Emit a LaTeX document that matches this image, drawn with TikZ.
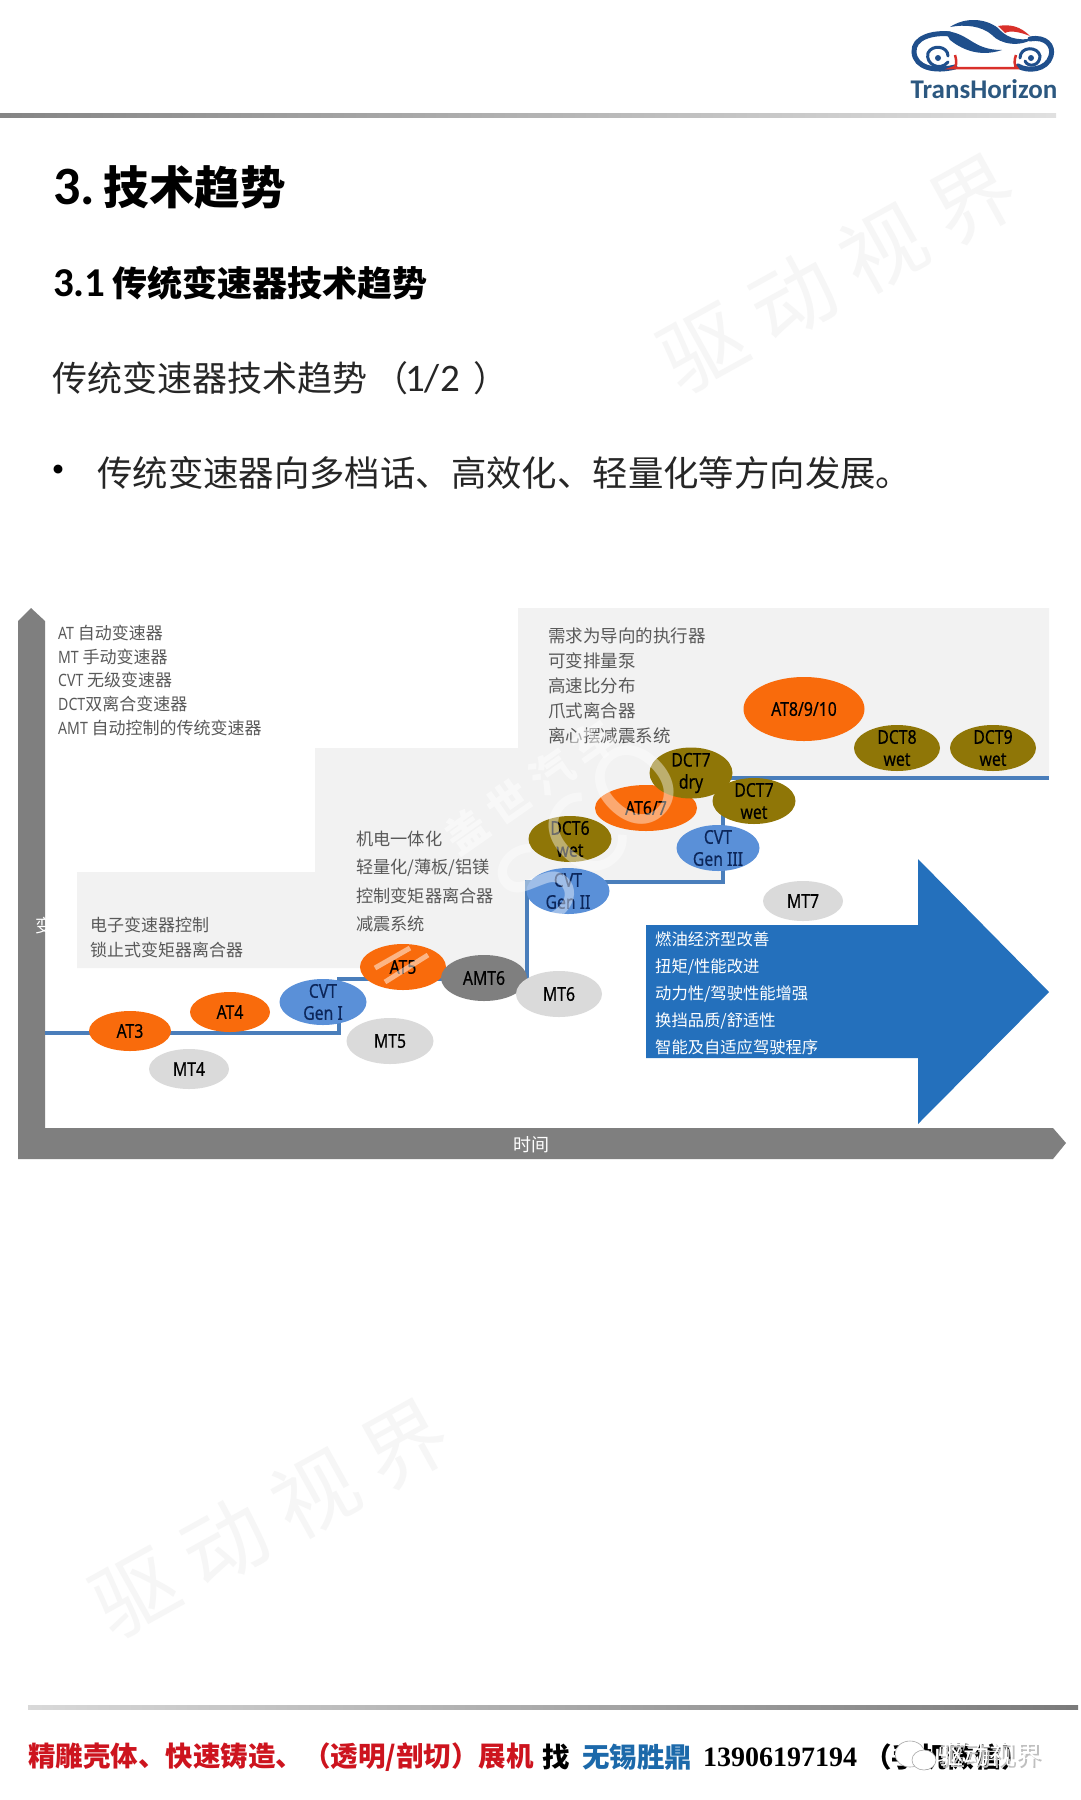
\documentclass[tikz,border=0pt]{standalone}
\usepackage{fontspec}
\setmainfont{Noto Sans CJK SC}
\newfontfamily\lf[FakeStretch=0.83,FakeBold=0.35]{Noto Sans}
\newfontfamily\nf[FakeStretch=0.83]{Noto Sans}
\newfontfamily\cf{Carlito}
\newfontfamily\rf{Liberation Serif}
\usepackage{tikz}
\usetikzlibrary{calc,shapes.geometric,positioning}

\definecolor{panelgray}{HTML}{F2F2F2}
\definecolor{axisgray}{HTML}{7F7F7F}
\definecolor{stepblue}{HTML}{4A7EBB}
\definecolor{bigblue}{HTML}{2470BC}
\definecolor{atorange}{HTML}{F96B0C}
\definecolor{mtgray}{HTML}{DADADA}
\definecolor{cvtblue}{HTML}{5A90D8}
\definecolor{dctolive}{HTML}{8F7607}
\definecolor{logoblue}{HTML}{1F4F8C}
\definecolor{logored}{HTML}{D9302A}
\definecolor{markgray}{HTML}{F6F6F6}

\begin{document}
\begin{tikzpicture}[x=1pt,y=-1pt]
  \tikzset{
    trans/.style={ellipse, inner sep=-16pt, align=center, text=black,
      font=\lf\fontsize{19}{22}\selectfont, minimum width=84pt, minimum height=46pt},
    atnode/.style={trans, fill=atorange},
    mtnode/.style={trans, fill=mtgray},
    cvtnode/.style={trans, fill=cvtblue, text={rgb,255:red,12;green,38;blue,90}},
    dctnode/.style={trans, fill=dctolive},
    amtnode/.style={trans, fill=axisgray},
    stepline/.style={stepblue, line width=4.5pt},
    notes/.style={anchor=north west, inner sep=0pt, align=left, text=black!65,
      font=\fontsize{17}{23.6}\selectfont},
    wmark/.style={text=markgray, rotate=29, font=\fontsize{84}{84}\selectfont},
    ftxt/.style={anchor=west, inner sep=0pt, font=\bfseries\fontsize{27.5}{30}\selectfont},
    logopen/.style={logoblue, line cap=round}
  }
  \useasboundingbox (0,0) rectangle (1080,1800);
  \fill[white] (0,0) rectangle (1080,1800);

  % Faint page marks
  \node[wmark] (markT) at (838,273) {驱 动 视 界};
  \node[wmark] (markB) at (270,1518) {驱 动 视 界};

  % Head rule and logo
  \shade[left color=black!48, right color=black!12] (0,113) rectangle (1056,117);
  \draw[logopen, line width=5pt] (955,67) .. controls (935,72) and (915,68) .. (914,52)
    .. controls (913,38) and (932,32) .. (950,34);
  \draw[logopen, line width=3pt] (948,62) .. controls (940,72) and (925,64) .. (928,53)
    .. controls (932,44) and (948,46) .. (948,56);
  \fill[logoblue] (938,58) circle (3);
  \fill[logoblue] (945,31) .. controls (970,33) and (972,50) .. (1002,50)
    .. controls (978,58) and (960,48) .. (950,40) -- cycle;
  \fill[logoblue] (950,27) .. controls (965,17) and (985,18) .. (998,28)
    .. controls (1005,36) and (1015,42) .. (1034,38)
    .. controls (1020,48) and (1000,44) .. (992,35)
    .. controls (982,26) and (965,24) .. (950,27) -- cycle;
  \draw[logopen, line width=5pt] (1030,39) .. controls (1046,36) and (1054,46) .. (1051,56)
    .. controls (1047,70) and (1028,72) .. (1018,66);
  \draw[logopen, line width=3pt] (1020,58) .. controls (1020,46) and (1038,46) .. (1040,56)
    .. controls (1040,66) and (1028,68) .. (1025,61);
  \fill[logoblue] (1031,58) circle (3);
  \fill[logored] (998,26) .. controls (1010,24) and (1020,26) .. (1030,36)
    .. controls (1020,32) and (1010,30) .. (1005,33) -- cycle;
  \draw[logored, line width=2.5pt] (955,55) .. controls (957,62) and (957,68) .. (952,68)
    -- (1017,68) .. controls (1014,66) and (1014,60) .. (1016,55);
  \node[inner sep=0pt, text={rgb,255:red,44;green,88;blue,128}, font=\cf\bfseries\fontsize{27}{28}\selectfont] (logoname) at (984,89) {TransHorizon};

  % Page headings
  \node[anchor=west, inner sep=0pt, font=\bfseries\fontsize{45.5}{48}\selectfont] (title) at (53,187) {{\cf\fontsize{54}{54}\selectfont 3.\hspace{9pt}}技术趋势};
  \node[anchor=west, inner sep=0pt, font=\bfseries\fontsize{35}{38}\selectfont] (subtitle) at (53,283) {{\cf\fontsize{41}{41}\selectfont 3.1\hspace{7pt}}传统变速器技术趋势};
  \node[anchor=west, inner sep=0pt, text=black!85, font=\fontsize{35}{38}\selectfont] (subhead) at (52,378) {传统变速器技术趋势\hspace{6pt}（\hspace{-3pt}{\cf\fontsize{39}{39}\selectfont 1/2}\hspace{14pt}）};
  \node[inner sep=0pt, font=\fontsize{42}{42}\selectfont] (dot) at (58,475) {•};
  \node[anchor=west, inner sep=0pt, text=black!85, font=\fontsize{35.4}{38}\selectfont] (bullet) at (97,473) {传统变速器向多档话、高效化、轻量化等方向发展。};

  % Grey stair behind the chart
  \fill[panelgray] (77,872) -- (315,872) -- (315,748) -- (518,748) -- (518,608) -- (1049,608)
    -- (1049,778) -- (722,778) -- (722,884) -- (527,884) -- (527,968) -- (77,968) -- cycle;

  % Axes
  \fill[axisgray] (18,621) -- (31,608) -- (45,621) -- (45,1128) -- (1053,1128) -- (1066,1143)
    -- (1053,1159) -- (18,1159) -- cycle;
  \node[inner sep=0pt, text=white, font=\fontsize{18}{18}\selectfont] (timelabel) at (531,1145) {时间};
  \node[inner sep=0pt, text=white, font=\fontsize{18}{18}\selectfont] (ylabel) at (44,926) {变};

  % Stepped trend line
  \coordinate (s0) at (45,1033);
  \coordinate (s1) at (339,1033);
  \coordinate (s2) at (339,979);
  \coordinate (s3) at (527,979);
  \coordinate (s4) at (527,882);
  \coordinate (s5) at (723,882);
  \coordinate (s6) at (723,778);
  \coordinate (s7) at (1049,778);
  \draw[stepline] (s0) -- (s1) -- (s2) -- (s3) -- (s4) -- (s5) -- (s6) -- (s7);

  % Notes on the stair
  \node[notes] (keynote) at (58,625) {{\nf AT} 自动变速器\\{\nf MT} 手动变速器\\{\nf CVT} 无级变速器\\{\nf DCT}双离合变速器\\{\nf AMT} 自动控制的传统变速器};
  \node[notes, font=\fontsize{17}{25}\selectfont] (noteA) at (90,917) {电子变速器控制\\锁止式变矩器离合器};
  \node[notes, font=\fontsize{17.2}{28.3}\selectfont] (noteB) at (356,831) {机电一体化\\轻量化/薄板/铝镁\\控制变矩器离合器\\减震系统};
  \node[notes, font=\fontsize{17.5}{25}\selectfont] (noteC) at (548,628) {需求为导向的执行器\\可变排量泵\\高速比分布\\爪式离合器\\离心摆减震系统};

  % Transmission generations
  \node[atnode, minimum width=82pt, minimum height=40pt] (at3) at (130,1031) {AT3};
  \node[mtnode, minimum width=80pt, minimum height=40pt] (mt4) at (189,1069) {MT4};
  \node[atnode, minimum width=80pt, minimum height=40pt] (at4) at (230,1012) {AT4};
  \node[cvtnode, minimum width=87pt] (cvt1) at (323,1002) {CVT\\Gen I};
  \node[mtnode, minimum width=87pt] (mt5) at (390,1041) {MT5};
  \node[atnode, minimum width=86pt] (at5) at (403,967) {AT5};
  \node[amtnode, minimum width=86pt] (amt6) at (484,978) {AMT6};
  \node[mtnode, minimum width=86pt] (mt6) at (559,994) {MT6};
  \node[dctnode, minimum width=83pt] (dct6) at (570,839) {DCT6\\wet};
  \node[cvtnode, minimum width=83pt] (cvt2) at (568,891) {CVT\\Gen II};
  \node[atnode, minimum width=102pt] (at67) at (646,808) {AT6/7};
  \node[cvtnode, minimum width=83pt] (cvt3) at (718,848) {CVT\\Gen III};
  \node[dctnode, minimum width=83pt, minimum height=51pt] (dct7d) at (691,773) {DCT7\\dry};
  \node[dctnode, minimum width=83pt] (dct7w) at (754,801) {DCT7\\wet};
  \node[mtnode, minimum width=80pt, minimum height=40pt] (mt7) at (803,901) {MT7};
  \node[atnode, minimum width=121pt, minimum height=64pt] (at8) at (804,709) {AT8/9/10};
  \node[dctnode, minimum width=86pt] (dct8) at (897,748) {DCT8\\wet};
  \node[dctnode, minimum width=86pt] (dct9) at (993,748) {DCT9\\wet};

  % Big arrow of benefits
  \fill[bigblue] (646,925) -- (918,925) -- (918,859) -- (1049,992) -- (918,1124) -- (918,1058)
    -- (646,1058) -- cycle;
  \node[notes, text=white, font=\fontsize{16.3}{27}\selectfont] (gains) at (655,932) {燃油经济型改善\\扭矩/性能改进\\动力性/驾驶性能增强\\换挡品质/舒适性\\智能及自适应驾驶程序};

  % Site mark laid over the chart
  \node[inner sep=0pt, text=white, text opacity=0.5, rotate=35, font=\bfseries\fontsize{42}{44}\selectfont] (siteA) at (530,787) {盖 世 汽 车};
  \node[inner sep=0pt, text=white, text opacity=0.42, rotate=45, font=\fontsize{110}{110}\selectfont] (siteB) at (588,832) {SCO};
  \draw[white, opacity=0.5, line width=5pt] (375,968) -- (410,948);
  \draw[white, opacity=0.5, line width=5pt] (385,982) -- (428,955);

  % Foot rule and contact line
  \shade[left color=black!15, right color=black!52] (28,1705) rectangle (1078,1709);
  \node[ftxt, text={rgb,255:red,205;green,20;blue,30}] (ftA) at (28,1757) {精雕壳体、快速铸造、（透明/剖切）展机};
  \node[ftxt] (ftB) at (542,1757) {找};
  \node[ftxt, text={rgb,255:red,28;green,105;blue,170}] (ftC) at (582,1757) {无锡胜鼎};
  \node[ftxt, font=\rf\bfseries\fontsize{28}{30}\selectfont] (ftD) at (703,1757) {13906197194};
  \node[ftxt] (ftE) at (864,1757) {（手机微信）};

  % Mark over the contact line
  \draw[black!35, fill=white, line width=0.6pt] (910,1754) ellipse (15 and 13);
  \draw[black!35, fill=white, line width=0.6pt] (924,1760) ellipse (12 and 10);
  \node[inner sep=0pt, text=black!25, font=\fontsize{26}{28}\selectfont] (wxshade) at (991,1757) {驱动视界};
  \node[inner sep=0pt, text=white, font=\fontsize{26}{28}\selectfont] (wxname) at (989,1755) {驱动视界};
\end{tikzpicture}
\end{document}
